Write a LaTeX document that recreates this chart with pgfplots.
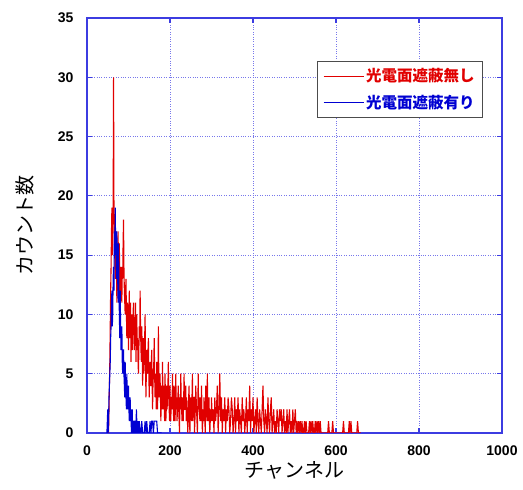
\documentclass[border=0pt]{standalone}
\usepackage{fontspec}
\setmainfont{Liberation Sans}
\newfontfamily\jp{Noto Sans CJK JP}
\usepackage{pgfplots}
\pgfplotsset{compat=1.18}
\definecolor{axblue}{RGB}{60,60,225}
\definecolor{gridblue}{RGB}{120,120,235}
\definecolor{sred}{RGB}{225,0,0}
\definecolor{sblue}{RGB}{0,0,210}
\begin{document}
\begin{tikzpicture}
\begin{axis}[
    width=415pt, height=415pt, scale only axis,
    xmin=0, xmax=1000, ymin=0, ymax=35,
    xtick={0,200,...,1000}, ytick={0,5,...,35},
    axis line style={axblue, line width=1.2pt},
    tick style={axblue, line width=1.2pt},
    major tick length=5pt, tick align=inside,
    grid=major, grid style={gridblue, dotted, line width=0.9pt},
    tick label style={font=\fontsize{14}{14}\selectfont\bfseries},
    /pgf/number format/assume math mode=true,
    /pgf/number format/set thousands separator={},
    xticklabel style={yshift=-9pt},
    yticklabel style={xshift=-10pt},
    every axis x label/.style={at={(axis description cs:0.5,-0.089)}, anchor=center},
    every axis y label/.style={at={(axis description cs:-0.149,0.5)}, rotate=90, anchor=center},
    xlabel={\jp\fontsize{20}{20}\selectfont チャンネル},
    ylabel={\jp\fontsize{20}{20}\selectfont カウント数},
    legend style={at={(0.954,0.896)}, anchor=north east, draw=black!70, line width=0.8pt,
        font=\jp\fontsize{15.5}{15.5}\selectfont\bfseries, row sep=8pt, inner xsep=6pt, inner ysep=5pt},
    legend cell align=left,
    legend image code/.code={\draw[#1, line width=0.8pt] (0pt,0pt) -- (40pt,0pt);},
]
\addplot[sred, line width=1.1pt] coordinates {
(50,0) (51,0) (52,0) (53,2) (54,4) (55,6) (56,9) (57,12) (58,14) (59,17)
(60,19) (61,15) (62,16) (63,19) (64,30) (65,19) (66,18) (67,15) (68,13) (69,16)
(70,17) (71,14) (72,11) (73,13) (74,15) (75,17) (76,12) (77,14) (78,16) (79,12)
(80,10) (81,13) (82,14) (83,12) (84,11) (85,14) (86,13) (87,16) (88,18) (89,14)
(90,12) (91,11) (92,10) (93,12) (94,13) (95,10) (96,8) (97,10) (98,11) (99,9)
(100,7) (101,10) (102,12) (103,8) (104,9) (105,11) (106,6) (107,8) (108,10) (109,7)
(110,8) (111,10) (112,11) (113,9) (114,7) (115,8) (116,9) (117,11) (118,6) (119,8)
(120,10) (121,7) (122,8) (123,6) (124,5) (125,7) (126,9) (127,8) (128,12) (129,9)
(130,7) (131,6) (132,9) (133,7) (134,4) (135,6) (136,8) (137,5) (138,6) (139,8)
(140,10) (141,6) (142,3) (143,5) (144,7) (145,6) (146,5) (147,7) (148,8) (149,5)
(150,3) (151,5) (152,6) (153,4) (154,4) (155,6) (156,7) (157,4) (158,2) (159,4)
(160,5) (161,6) (162,8) (163,5) (164,3) (165,5) (166,4) (167,2) (168,6) (169,4)
(170,2) (171,4) (172,9) (173,5) (174,3) (175,4) (176,5) (177,3) (178,1) (179,3)
(180,4) (181,2) (182,6) (183,3) (184,2) (185,4) (186,3) (187,1) (188,5) (189,3)
(190,1) (191,2) (192,4) (193,2) (194,3) (195,4) (196,6) (197,3) (198,2) (199,1)
(200,4) (201,2) (202,1) (203,3) (204,3) (205,2) (206,5) (207,3) (208,2) (209,1)
(210,4) (211,3) (212,1) (213,2) (214,5) (215,2) (216,3) (217,1) (218,2) (219,3)
(220,4) (221,2) (222,1) (223,0) (224,3) (225,2) (226,5) (227,3) (228,2) (229,1)
(230,3) (231,2) (232,1) (233,3) (234,5) (235,2) (236,2) (237,3) (238,4) (239,1)
(240,3) (241,2) (242,1) (243,0) (244,2) (245,3) (246,4) (247,1) (248,0) (249,2)
(250,3) (251,2) (252,1) (253,3) (254,5) (255,1) (256,2) (257,3) (258,3) (259,0)
(260,1) (261,2) (262,4) (263,3) (264,2) (265,1) (266,0) (267,2) (268,5) (269,2)
(270,3) (271,2) (272,1) (273,3) (274,2) (275,1) (276,4) (277,2) (278,0) (279,1)
(280,2) (281,1) (282,3) (283,2) (284,1) (285,0) (286,4) (287,2) (288,2) (289,1)
(290,5) (291,2) (292,1) (293,2) (294,3) (295,1) (296,0) (297,1) (298,2) (299,1)
(300,3) (302,1) (304,2) (306,0) (308,3)
(310,1) (312,2) (314,4) (316,0) (318,2) (320,5) (322,1) (324,3) (326,0) (328,2)
(330,1) (332,3) (334,0) (336,2) (338,1) (340,3) (342,2) (344,0) (346,1) (348,3)
(350,2) (352,0) (354,1) (356,3) (358,0) (360,2) (362,1) (364,3) (366,0) (368,2)
(370,1) (372,0) (374,3) (376,1) (378,2) (380,0) (382,1) (384,3) (386,0) (388,2)
(390,1) (392,4) (394,0) (396,2) (398,1) (400,3) (402,0) (404,1) (406,2) (408,0)
(410,3) (412,1) (414,0) (416,2) (418,1) (420,0) (422,2) (424,4) (426,1) (428,0)
(430,2) (432,1) (434,0) (436,3) (438,1) (440,0) (442,2) (444,3) (446,0) (448,1)
(450,2) (452,0) (454,1) (456,0) (458,2) (460,1) (462,0) (464,2) (466,1) (468,2)
(470,0) (472,1) (474,2) (476,0) (478,1) (480,0) (482,2) (484,0) (486,1) (488,2)
(490,0) (492,1) (494,0) (496,2) (498,0) (500,1) (502,2) (504,0) (506,1) (508,0)
(510,1) (512,0) (514,1) (516,0) (518,1) (520,0) (522,0) (524,1) (526,0) (528,1)
(530,0) (532,0) (534,0) (536,1) (538,0) (540,1) (542,0) (544,1) (546,0) (548,0)
(550,1) (552,0) (554,1) (556,0) (558,1) (560,0) (562,1) (564,0) (566,0) (568,0)
(570,0) (580,0) (582,1) (584,0) (590,0) (592,1) (594,0) (616,0) (618,1) (620,0)
(630,0) (632,1) (634,0) (636,1) (638,0) (650,0) (652,1) (654,0) (660,0)
};
\addlegendentry{\textcolor{sred}{光電面遮蔽無し}}
\addplot[sblue, line width=1.1pt] coordinates {
(48,0) (49,1) (50,2) (51,0) (52,1) (53,3) (54,4) (55,5) (56,6) (57,8)
(58,9) (59,11) (60,12) (61,9) (62,10) (63,13) (64,14) (65,12) (66,17) (67,15)
(68,19) (69,16) (70,15) (71,13) (72,17) (73,14) (74,13) (75,11) (76,16) (77,12)
(78,10) (79,8) (80,12) (81,9) (82,7) (83,8) (84,9) (85,6) (86,5) (87,7)
(88,7) (89,5) (90,4) (91,3) (92,6) (93,4) (94,3) (95,2) (96,5) (97,3)
(98,2) (99,3) (100,4) (101,2) (102,1) (103,2) (104,3) (105,1) (106,2) (107,0)
(108,1) (109,2) (110,0) (111,1) (112,1) (113,0) (114,0) (115,1) (116,1) (117,0)
(118,0) (119,2) (120,1) (121,0) (122,0) (123,1) (124,0) (125,0) (126,1) (128,0)
(130,0) (132,1) (134,0) (136,0) (138,0) (140,1) (142,0) (144,1) (146,0)
(148,0) (150,0) (152,1) (154,0) (156,1) (158,1) (160,0) (162,1) (164,1) (166,1)
(168,1) (170,0) (180,0)
};
\addlegendentry{\textcolor{sblue}{光電面遮蔽有り}}
\end{axis}
\pgfresetboundingbox
\path (-87pt,-57pt) rectangle (436pt,433pt);
\end{tikzpicture}
\end{document}
